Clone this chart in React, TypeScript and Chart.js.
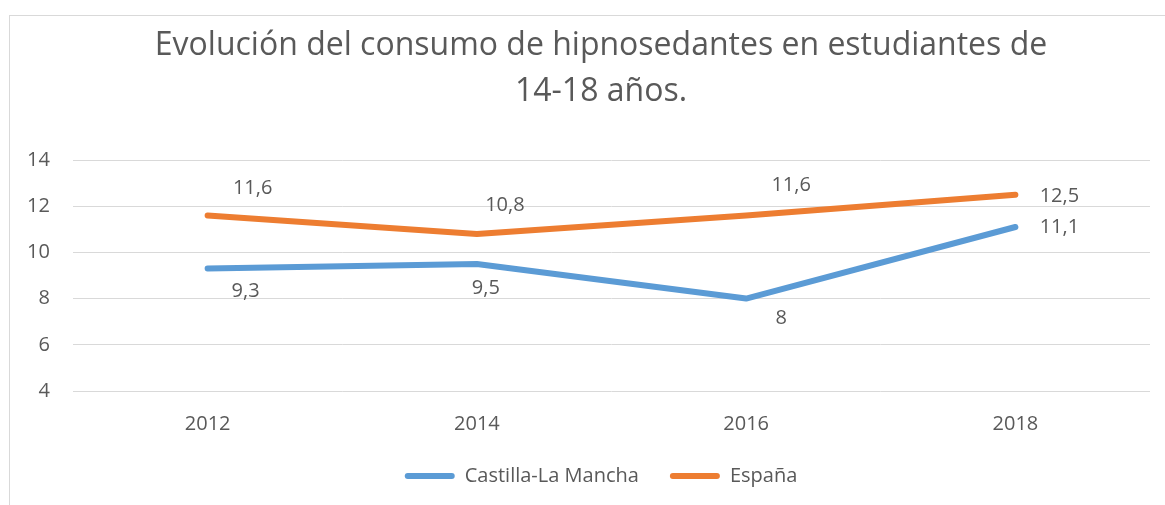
import { useEffect, useRef } from 'react';
import { Chart, registerables } from 'chart.js';

Chart.register(...registerables);

// ---- data ----
const years = ['2012', '2014', '2016', '2018'];
const castillaLaMancha = [9.3, 9.5, 8, 11.1];
const espana = [11.6, 10.8, 11.6, 12.5];
const seriesNames = ['Castilla-La Mancha', 'España'];
const titleLines = ['Evolución del consumo de hipnosedantes en estudiantes de', '14-18 años.'];
const yMin = 4;
const yMax = 14;
const yStep = 2;

// ---- styles ----
const FONT = '"Open Sans", "Liberation Sans", sans-serif';
const TEXT = '#595959';
const GRID = '#d9d9d9';
const BLUE = '#5b9bd5';
const ORANGE = '#ed7d31';

// data-label offsets (dx, dy) from each point, per series
const labelOffsets = [
  [[38, 23], [9, 24], [35, 20], [44, 0]],
  [[45, -27], [28, -29], [45, -30], [44, 2]],
];

const fmt = (v: number) => String(v).replace('.', ',');

const dataLabelPlugin = {
  id: 'dataLabels',
  afterDatasetsDraw(chart: any) {
    const ctx = chart.ctx;
    ctx.save();
    ctx.font = `20px ${FONT}`;
    ctx.fillStyle = TEXT;
    ctx.textAlign = 'center';
    ctx.textBaseline = 'middle';
    chart.data.datasets.forEach((ds: any, i: number) => {
      const meta = chart.getDatasetMeta(i);
      meta.data.forEach((pt: any, j: number) => {
        const [dx, dy] = labelOffsets[i][j];
        ctx.fillText(fmt(ds.data[j]), pt.x + dx, pt.y + dy);
      });
    });
    ctx.restore();
  },
};

export default function App() {
  const ref = useRef<HTMLCanvasElement | null>(null);

  useEffect(() => {
    if (!ref.current) return;
    const chart = new Chart(ref.current, {
      type: 'line',
      data: {
        labels: years,
        datasets: [
          {
            label: seriesNames[0],
            data: castillaLaMancha,
            borderColor: BLUE,
            backgroundColor: BLUE,
            borderWidth: 6,
            borderCapStyle: 'round',
            borderJoinStyle: 'round',
            pointRadius: 0,
            pointHoverRadius: 0,
            tension: 0,
          },
          {
            label: seriesNames[1],
            data: espana,
            borderColor: ORANGE,
            backgroundColor: ORANGE,
            borderWidth: 6,
            borderCapStyle: 'round',
            borderJoinStyle: 'round',
            pointRadius: 0,
            pointHoverRadius: 0,
            tension: 0,
          },
        ],
      },
      options: {
        responsive: false,
        animation: false,
        devicePixelRatio: 1,
        layout: { padding: { left: 52, right: 15, top: 0, bottom: 9 } },
        plugins: {
          title: {
            display: true,
            text: titleLines,
            color: TEXT,
            font: { family: FONT, size: 32, weight: 'normal', lineHeight: '46px' },
            padding: { top: 22.5, bottom: 45.5 },
          },
          legend: {
            position: 'bottom',
            labels: {
              boxWidth: 50,
              boxHeight: 6,
              padding: 31,
              color: TEXT,
              font: { family: FONT, size: 20 },
              generateLabels: (c: any) =>
                c.data.datasets.map((ds: any, i: number) => ({
                  text: ds.label,
                  fillStyle: ds.borderColor,
                  strokeStyle: ds.borderColor,
                  lineWidth: 0,
                  borderRadius: 3,
                  hidden: false,
                  datasetIndex: i,
                  fontColor: TEXT,
                })),
            },
          },
          tooltip: { enabled: false },
        },
        scales: {
          x: {
            offset: true,
            grid: { display: false, offset: true },
            border: { display: false },
            ticks: { color: TEXT, font: { family: FONT, size: 20 }, padding: 13 },
            afterFit: (s: any) => { s.height = 44; },
          },
          y: {
            min: yMin,
            max: yMax,
            ticks: {
              stepSize: yStep,
              color: TEXT,
              font: { family: FONT, size: 20 },
              mirror: true,
              crossAlign: 'far',
              padding: -46,
            },
            grid: { color: GRID, drawTicks: false },
            border: { display: false },
            afterFit: (s: any) => { s.width = 21; },
          },
        },
      },
      plugins: [dataLabelPlugin],
    });
    return () => chart.destroy();
  }, []);

  return (
    <div
      style={{
        position: 'fixed',
        left: 0,
        top: 0,
        width: 1165,
        height: 505,
        overflow: 'hidden',
        background: '#fff',
      }}
    >
      <div
        style={{
          position: 'absolute',
          left: 9,
          top: 15,
          width: 1300,
          height: 700,
          border: `1px solid ${GRID}`,
          boxSizing: 'border-box',
        }}
      />
      <canvas ref={ref} width={1165} height={505} style={{ position: 'absolute', left: 0, top: 0 }} />
    </div>
  );
}
